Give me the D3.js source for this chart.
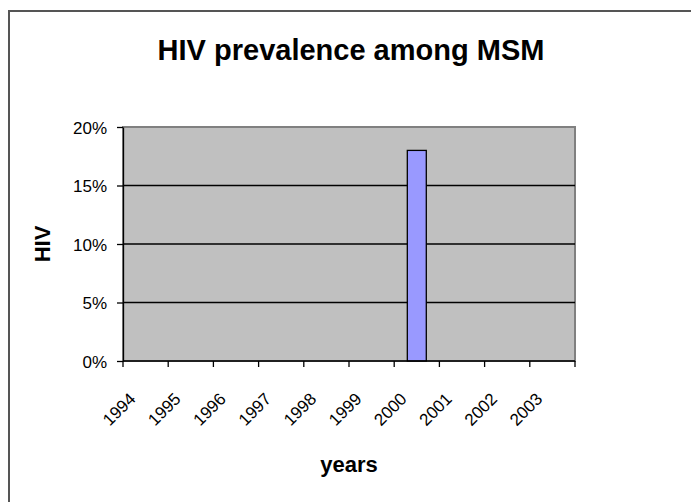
<!DOCTYPE html>
<html><head><meta charset="utf-8">
<script src="https://cdn.jsdelivr.net/npm/d3@7"></script>
<style>body{margin:0;background:#fff;} svg{display:block;font-family:"Liberation Sans",Arial,sans-serif;}</style>
</head><body>
<svg id="c" width="691" height="502"></svg>
<script>
const years = ["1994","1995","1996","1997","1998","1999","2000","2001","2002","2003"];
const hivValues = [null,null,null,null,null,null,0.18,null,null,null];
const yTicks = [0,0.05,0.10,0.15,0.20];
const title = "HIV prevalence among MSM";

const svg = d3.select("#c");
svg.append("rect").attr("x",9).attr("y",11).attr("width",700).attr("height",520)
  .attr("fill","#fff").attr("stroke","#555").attr("stroke-width",2);

const L=123,R=575,T=127,B=361;
const x = d3.scaleBand().domain(years).range([L,R]).paddingInner(0).paddingOuter(0);
const y = d3.scaleLinear().domain([0,0.2]).range([B,T]);

svg.append("rect").attr("x",L).attr("y",T).attr("width",R-L).attr("height",B-T)
  .attr("fill","#c0c0c0").attr("stroke","#808080").attr("stroke-width",2);

svg.append("g").selectAll("line").data(yTicks.filter(d=>d>0&&d<0.2)).join("line")
  .attr("x1",L).attr("x2",R).attr("y1",d=>y(d)).attr("y2",d=>y(d))
  .attr("stroke","#000").attr("stroke-width",1.3);

const bw = x.bandwidth()*0.42;
svg.append("g").selectAll("rect").data(years.map((d,i)=>({year:d,v:hivValues[i]})).filter(d=>d.v!=null)).join("rect")
  .attr("x",d=>x(d.year)+x.bandwidth()/2-bw/2).attr("width",bw)
  .attr("y",d=>y(d.v)).attr("height",d=>B-y(d.v))
  .attr("fill","#9999ff").attr("stroke","#000").attr("stroke-width",1.3);

const yAxis = d3.axisLeft(y).tickValues(yTicks).tickFormat(d3.format(".0%")).tickSize(6).tickSizeOuter(0);
const gy = svg.append("g").attr("transform",`translate(${L},0)`).call(yAxis);
gy.attr("font-size",null).attr("font-family",null);
gy.select(".domain").attr("stroke","#000").attr("stroke-width",1.3);
gy.selectAll(".tick line").attr("stroke","#000").attr("stroke-width",1.3);
gy.selectAll(".tick text").style("font-size","17px").attr("fill","#000").attr("x",-16).attr("dy","0.36em");

svg.append("line").attr("x1",L).attr("x2",R).attr("y1",B).attr("y2",B).attr("stroke","#000").attr("stroke-width",1.3);
const bounds = years.map(d=>x(d)).concat([R]);
svg.append("g").selectAll("line").data(bounds).join("line")
  .attr("x1",d=>d).attr("x2",d=>d).attr("y1",B).attr("y2",B+6).attr("stroke","#000").attr("stroke-width",1.3);
svg.append("g").selectAll("text").data(years).join("text")
  .attr("transform",d=>`translate(${x(d)+x.bandwidth()/2-9},${B+39}) rotate(-45)`)
  .attr("text-anchor","end").style("font-size","17px").attr("fill","#000").text(d=>d);

svg.append("text").attr("x",(L+R)/2+2).attr("y",60).attr("text-anchor","middle")
  .style("font-size","29px").attr("font-weight","bold").text(title);
svg.append("text").attr("x",(L+R)/2).attr("y",472).attr("text-anchor","middle")
  .style("font-size","22px").attr("font-weight","bold").text("years");
svg.append("text").attr("transform",`translate(50,${(T+B)/2}) rotate(-90)`).attr("text-anchor","middle")
  .style("font-size","22px").attr("font-weight","bold").text("HIV");
</script>
</body></html>
